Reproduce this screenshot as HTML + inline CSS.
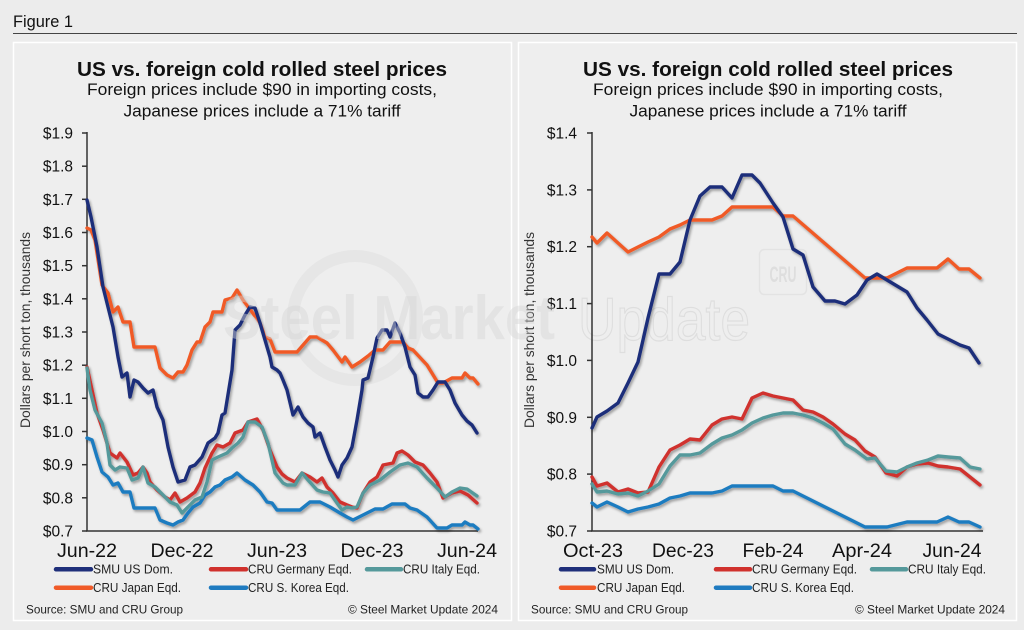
<!DOCTYPE html>
<html><head><meta charset="utf-8"><style>
html,body{margin:0;padding:0;background:#ececec;}
svg{display:block;font-family:"Liberation Sans",Arial,sans-serif;}
</style></head><body>
<svg width="1024" height="630" viewBox="0 0 1024 630" xmlns="http://www.w3.org/2000/svg">
<defs>
<filter id="sh" x="-10%" y="-10%" width="120%" height="120%">
<feDropShadow dx="1.5" dy="2" stdDeviation="1.3" flood-color="#000" flood-opacity="0.35"/>
</filter>
</defs>
<rect x="0" y="0" width="1024" height="630" fill="#ececec"/>
<text x="13" y="27" font-size="17" fill="#111" textLength="60" lengthAdjust="spacingAndGlyphs">Figure 1</text>
<line x1="13" y1="33.5" x2="1017" y2="33.5" stroke="#444" stroke-width="1"/>
<rect x="13.5" y="42.5" width="498" height="578" fill="#eeeeee" stroke="#ffffff" stroke-width="1.5"/>
<rect x="518.5" y="42.5" width="498" height="578" fill="#eeeeee" stroke="#ffffff" stroke-width="1.5"/>

<!-- watermark background parts -->
<circle cx="355" cy="318" r="62" fill="none" stroke="#e3e3e3" stroke-width="12" opacity="0.8"/>
<text x="578" y="340" font-size="60" fill="none" stroke="#dedede" stroke-width="1.2" textLength="172" lengthAdjust="spacingAndGlyphs">Update</text>
<rect x="759.5" y="249.5" width="47" height="45" rx="5" fill="none" stroke="#e3e3e3" stroke-width="1.5"/>
<text x="783" y="282" font-size="22" font-weight="bold" fill="#dedede" text-anchor="middle" textLength="27" lengthAdjust="spacingAndGlyphs">CRU</text>

<!-- Titles -->
<g fill="#111" text-anchor="middle">
<text x="262" y="76" font-size="20.5" font-weight="bold" textLength="370" lengthAdjust="spacingAndGlyphs">US vs. foreign cold rolled steel prices</text>
<text x="262" y="95" font-size="17" textLength="350" lengthAdjust="spacingAndGlyphs">Foreign prices include $90 in importing costs,</text>
<text x="262" y="116.5" font-size="17" textLength="277" lengthAdjust="spacingAndGlyphs">Japanese prices include a 71% tariff</text>
<text x="768" y="76" font-size="20.5" font-weight="bold" textLength="370" lengthAdjust="spacingAndGlyphs">US vs. foreign cold rolled steel prices</text>
<text x="768" y="95" font-size="17" textLength="350" lengthAdjust="spacingAndGlyphs">Foreign prices include $90 in importing costs,</text>
<text x="768" y="116.5" font-size="17" textLength="277" lengthAdjust="spacingAndGlyphs">Japanese prices include a 71% tariff</text>
</g>

<!-- Y axis titles -->
<text transform="translate(30,330) rotate(-90)" font-size="14" fill="#333" text-anchor="middle" textLength="196" lengthAdjust="spacingAndGlyphs">Dollars per short ton, thousands</text>
<text transform="translate(534,330) rotate(-90)" font-size="14" fill="#333" text-anchor="middle" textLength="196" lengthAdjust="spacingAndGlyphs">Dollars per short ton, thousands</text>

<!-- Left axes -->
<g stroke="#333" stroke-width="1.5" fill="none">
<line x1="87" y1="132" x2="87" y2="531"/>
<line x1="86" y1="531" x2="478" y2="531"/>
<line x1="82" y1="133" x2="87" y2="133"/><line x1="82" y1="166.2" x2="87" y2="166.2"/><line x1="82" y1="199.3" x2="87" y2="199.3"/><line x1="82" y1="232.5" x2="87" y2="232.5"/><line x1="82" y1="265.7" x2="87" y2="265.7"/><line x1="82" y1="298.8" x2="87" y2="298.8"/><line x1="82" y1="332" x2="87" y2="332"/><line x1="82" y1="365.2" x2="87" y2="365.2"/><line x1="82" y1="398.3" x2="87" y2="398.3"/><line x1="82" y1="431.5" x2="87" y2="431.5"/><line x1="82" y1="464.7" x2="87" y2="464.7"/><line x1="82" y1="497.8" x2="87" y2="497.8"/><line x1="82" y1="531" x2="87" y2="531"/>
</g>
<g font-size="15.5" fill="#111" text-anchor="end">
<text x="73" y="138.5">$1.9</text><text x="73" y="171.7">$1.8</text><text x="73" y="204.8">$1.7</text><text x="73" y="238">$1.6</text><text x="73" y="271.2">$1.5</text><text x="73" y="304.3">$1.4</text><text x="73" y="337.5">$1.3</text><text x="73" y="370.7">$1.2</text><text x="73" y="403.8">$1.1</text><text x="73" y="437">$1.0</text><text x="73" y="470.2">$0.9</text><text x="73" y="503.3">$0.8</text><text x="73" y="536.5">$0.7</text>
</g>
<g font-size="19" fill="#111" text-anchor="middle">
<text x="87" y="557" textLength="60" lengthAdjust="spacingAndGlyphs">Jun-22</text>
<text x="182" y="557" textLength="63" lengthAdjust="spacingAndGlyphs">Dec-22</text>
<text x="277" y="557" textLength="60" lengthAdjust="spacingAndGlyphs">Jun-23</text>
<text x="372" y="557" textLength="63" lengthAdjust="spacingAndGlyphs">Dec-23</text>
<text x="467" y="557" textLength="60" lengthAdjust="spacingAndGlyphs">Jun-24</text>
</g>

<!-- Right axes -->
<g stroke="#333" stroke-width="1.5" fill="none">
<line x1="592" y1="132" x2="592" y2="531"/>
<line x1="591" y1="531" x2="983" y2="531"/>
<line x1="587" y1="133" x2="592" y2="133"/><line x1="587" y1="189.9" x2="592" y2="189.9"/><line x1="587" y1="246.7" x2="592" y2="246.7"/><line x1="587" y1="303.6" x2="592" y2="303.6"/><line x1="587" y1="360.4" x2="592" y2="360.4"/><line x1="587" y1="417.3" x2="592" y2="417.3"/><line x1="587" y1="474.1" x2="592" y2="474.1"/><line x1="587" y1="531" x2="592" y2="531"/>
</g>
<g font-size="15.5" fill="#111" text-anchor="end">
<text x="577" y="138.5">$1.4</text><text x="577" y="195.4">$1.3</text><text x="577" y="252.2">$1.2</text><text x="577" y="309.1">$1.1</text><text x="577" y="365.9">$1.0</text><text x="577" y="422.8">$0.9</text><text x="577" y="479.6">$0.8</text><text x="577" y="536.5">$0.7</text>
</g>
<g font-size="19" fill="#111" text-anchor="middle">
<text x="593" y="557" textLength="60" lengthAdjust="spacingAndGlyphs">Oct-23</text>
<text x="683" y="557" textLength="62" lengthAdjust="spacingAndGlyphs">Dec-23</text>
<text x="773" y="557" textLength="61" lengthAdjust="spacingAndGlyphs">Feb-24</text>
<text x="862" y="557" textLength="60" lengthAdjust="spacingAndGlyphs">Apr-24</text>
<text x="952" y="557" textLength="59" lengthAdjust="spacingAndGlyphs">Jun-24</text>
</g>

<!-- Left series -->
<g fill="none" stroke-width="3.4" stroke-linejoin="round" stroke-linecap="round" filter="url(#sh)">
<polyline stroke="#1f7bc0" points="87,438 92,440 97,457 102,472 108,477 113,485 118,483 123,492 130,492 134,508 155,508 160,520 167,523 173,525 178,522 183,520 188,513 193,507 200,503 205,495 210,492 215,487 220,485 225,480 232,477 237,473 245,480 253,485 260,492 267,502 272,503 277,510 300,510 310,502 320,502 330,507 340,513 347,517 353,520 363,515 375,509 383,509 392,504 405,504 410,508 417,510 427,517 437,528 447,528 452,525 462,525 465,522 470,525 473,525 478,529"/>
<polyline stroke="#d0312d" points="87,367 92,390 97,413 103,430 110,453 117,458 120,453 127,462 133,475 138,473 143,467 147,473 150,482 157,490 165,497 170,500 175,493 180,502 187,498 195,492 200,483 205,468 212,453 217,445 223,447 230,443 235,433 243,430 248,422 257,419 263,430 270,450 277,467 282,474 287,478 295,482 302,473 310,477 317,482 322,478 327,487 333,493 340,502 347,505 352,507 357,508 363,493 370,482 377,477 383,465 393,463 397,453 402,451 408,455 415,462 423,465 430,473 437,482 443,498 452,493 460,491 468,495 477,503"/>
<polyline stroke="#55999b" points="87,368 90,390 95,410 102,423 107,443 110,465 115,470 120,467 127,468 132,480 138,478 143,467 148,483 155,487 163,495 170,502 177,505 182,513 188,507 195,500 202,497 207,482 212,460 218,457 227,453 232,448 238,443 243,437 248,422 255,422 262,427 268,443 275,473 283,483 287,485 295,485 302,473 308,480 317,490 323,492 330,493 337,503 342,510 347,507 352,508 357,507 363,493 370,485 380,480 390,472 400,465 408,463 417,467 427,478 437,488 445,497 452,492 460,488 467,489 477,496"/>
<polyline stroke="#f05a28" points="87,228 91,230 95,240 102,285 108,293 113,312 118,307 123,322 130,322 134,347 155,347 160,368 167,375 173,378 178,372 183,372 187,365 192,350 197,342 200,342 205,327 210,322 213,312 222,312 225,300 232,298 237,290 243,300 252,312 260,323 265,337 270,339 275,352 297,352 310,337 317,337 327,343 333,350 342,362 345,357 352,367 360,362 368,356 375,350 383,350 390,342 403,342 408,348 413,350 427,365 438,383 443,383 452,378 462,378 465,373 470,378 473,378 478,384"/>
<polyline stroke="#1f2f7a" points="87,200 91,217 97,247 103,287 108,307 113,327 118,357 122,377 127,373 130,397 134,380 138,382 143,388 148,393 153,390 157,407 163,420 168,447 173,467 178,482 185,480 190,467 195,465 202,457 208,443 215,438 218,433 222,415 225,413 232,370 235,330 240,325 245,315 250,307 255,308 260,323 265,340 270,357 272,367 277,370 280,373 283,380 287,390 293,415 298,407 303,417 308,423 313,427 315,437 320,433 325,447 330,460 335,470 338,477 342,465 347,458 352,447 357,420 362,390 363,380 368,378 373,357 377,338 382,330 387,330 390,337 395,323 400,333 405,347 410,367 415,375 418,393 423,397 428,397 433,390 438,382 445,382 450,390 455,403 462,415 467,421 472,425 477,433"/>
</g>

<!-- Right series -->
<g fill="none" stroke-width="3.4" stroke-linejoin="round" stroke-linecap="round" filter="url(#sh)">
<polyline stroke="#1f7bc0" points="592,503 597,507 607,502 618,507 628,512 638,509 648,507 659,504 670,498 680,496 690,493 700,493 712,493 722,491 732,486 742,486 752,486 763,486 773,486 783,491 793,491 865,527 887,527 907,522 937,522 948,517 959,522 969,522 980,527"/>
<polyline stroke="#d0312d" points="592,477 597,486 607,483 618,492 628,489 638,493 648,492 659,467 670,450 680,445 690,439 700,440 712,425 722,419 732,417 742,419 752,398 763,393 773,396 783,398 793,400 803,410 813,412 823,417 833,424 845,434 855,440 865,451 875,457 886,473 897,476 907,467 917,464 928,463 938,466 948,467 960,469 970,477 980,485"/>
<polyline stroke="#55999b" points="592,484 597,492 607,491 618,494 628,493 638,496 648,491 659,484 670,466 680,455 690,455 700,453 712,444 722,438 732,435 742,430 752,423 763,418 773,415 783,413 793,413 803,415 813,418 823,423 833,429 845,444 855,450 867,459 875,458 886,471 897,472 907,467 917,463 928,460 938,456 948,457 960,458 970,467 980,469"/>
<polyline stroke="#f05a28" points="592,237 597,243 607,233 618,243 628,252 638,247 648,242 659,237 670,229 680,225 690,220 700,220 712,220 722,216 732,207 742,207 752,207 763,207 773,207 783,216 793,216 865,278 887,278 907,268 937,268 948,259 959,269 969,269 980,278"/>
<polyline stroke="#1f2f7a" points="592,428 597,417 607,411 618,403 628,383 638,362 648,318 659,274 670,274 680,262 690,220 700,196 710,187 722,187 732,198 742,175 752,175 760,183 773,203 783,217 793,249 803,255 813,287 825,301 835,301 845,304 857,295 867,280 877,274 887,280 897,286 907,292 917,308 927,320 938,334 950,340 960,345 969,348 979,363"/>
</g>

<!-- watermark overlay -->
<text x="223" y="339" font-size="62" font-weight="bold" fill="#d6d6d6" opacity="0.45" textLength="332" lengthAdjust="spacingAndGlyphs">Steel Market</text>

<!-- Left legend -->
<g stroke-width="4.5" stroke-linecap="round">
<line x1="56" y1="569.3" x2="91" y2="569.3" stroke="#1f2f7a"/>
<line x1="211" y1="569.3" x2="246" y2="569.3" stroke="#d0312d"/>
<line x1="367" y1="569.3" x2="401" y2="569.3" stroke="#55999b"/>
<line x1="56" y1="587.7" x2="91" y2="587.7" stroke="#f05a28"/>
<line x1="211" y1="587.7" x2="246" y2="587.7" stroke="#1f7bc0"/>
<line x1="561" y1="569.3" x2="594" y2="569.3" stroke="#1f2f7a"/>
<line x1="716" y1="569.3" x2="750" y2="569.3" stroke="#d0312d"/>
<line x1="872" y1="569.3" x2="906" y2="569.3" stroke="#55999b"/>
<line x1="561" y1="587.7" x2="594" y2="587.7" stroke="#f05a28"/>
<line x1="716" y1="587.7" x2="750" y2="587.7" stroke="#1f7bc0"/>
</g>
<g font-size="13" fill="#222">
<text x="93" y="573.5" textLength="80" lengthAdjust="spacingAndGlyphs">SMU US Dom.</text>
<text x="248" y="573.5" textLength="104" lengthAdjust="spacingAndGlyphs">CRU Germany Eqd.</text>
<text x="403" y="573.5" textLength="77" lengthAdjust="spacingAndGlyphs">CRU Italy Eqd.</text>
<text x="93" y="592" textLength="88" lengthAdjust="spacingAndGlyphs">CRU Japan Eqd.</text>
<text x="248" y="592" textLength="101" lengthAdjust="spacingAndGlyphs">CRU S. Korea Eqd.</text>
<text x="597" y="573.5" textLength="77" lengthAdjust="spacingAndGlyphs">SMU US Dom.</text>
<text x="752" y="573.5" textLength="105" lengthAdjust="spacingAndGlyphs">CRU Germany Eqd.</text>
<text x="908" y="573.5" textLength="78" lengthAdjust="spacingAndGlyphs">CRU Italy Eqd.</text>
<text x="597" y="592" textLength="88" lengthAdjust="spacingAndGlyphs">CRU Japan Eqd.</text>
<text x="752" y="592" textLength="102" lengthAdjust="spacingAndGlyphs">CRU S. Korea Eqd.</text>
</g>
<g font-size="12" fill="#222">
<text x="26" y="613.3" textLength="157" lengthAdjust="spacingAndGlyphs">Source: SMU and CRU Group</text>
<text x="498" y="613.3" text-anchor="end" textLength="150" lengthAdjust="spacingAndGlyphs">© Steel Market Update 2024</text>
<text x="531" y="613.3" textLength="157" lengthAdjust="spacingAndGlyphs">Source: SMU and CRU Group</text>
<text x="1005" y="613.3" text-anchor="end" textLength="150" lengthAdjust="spacingAndGlyphs">© Steel Market Update 2024</text>
</g>
</svg>
</body></html>
